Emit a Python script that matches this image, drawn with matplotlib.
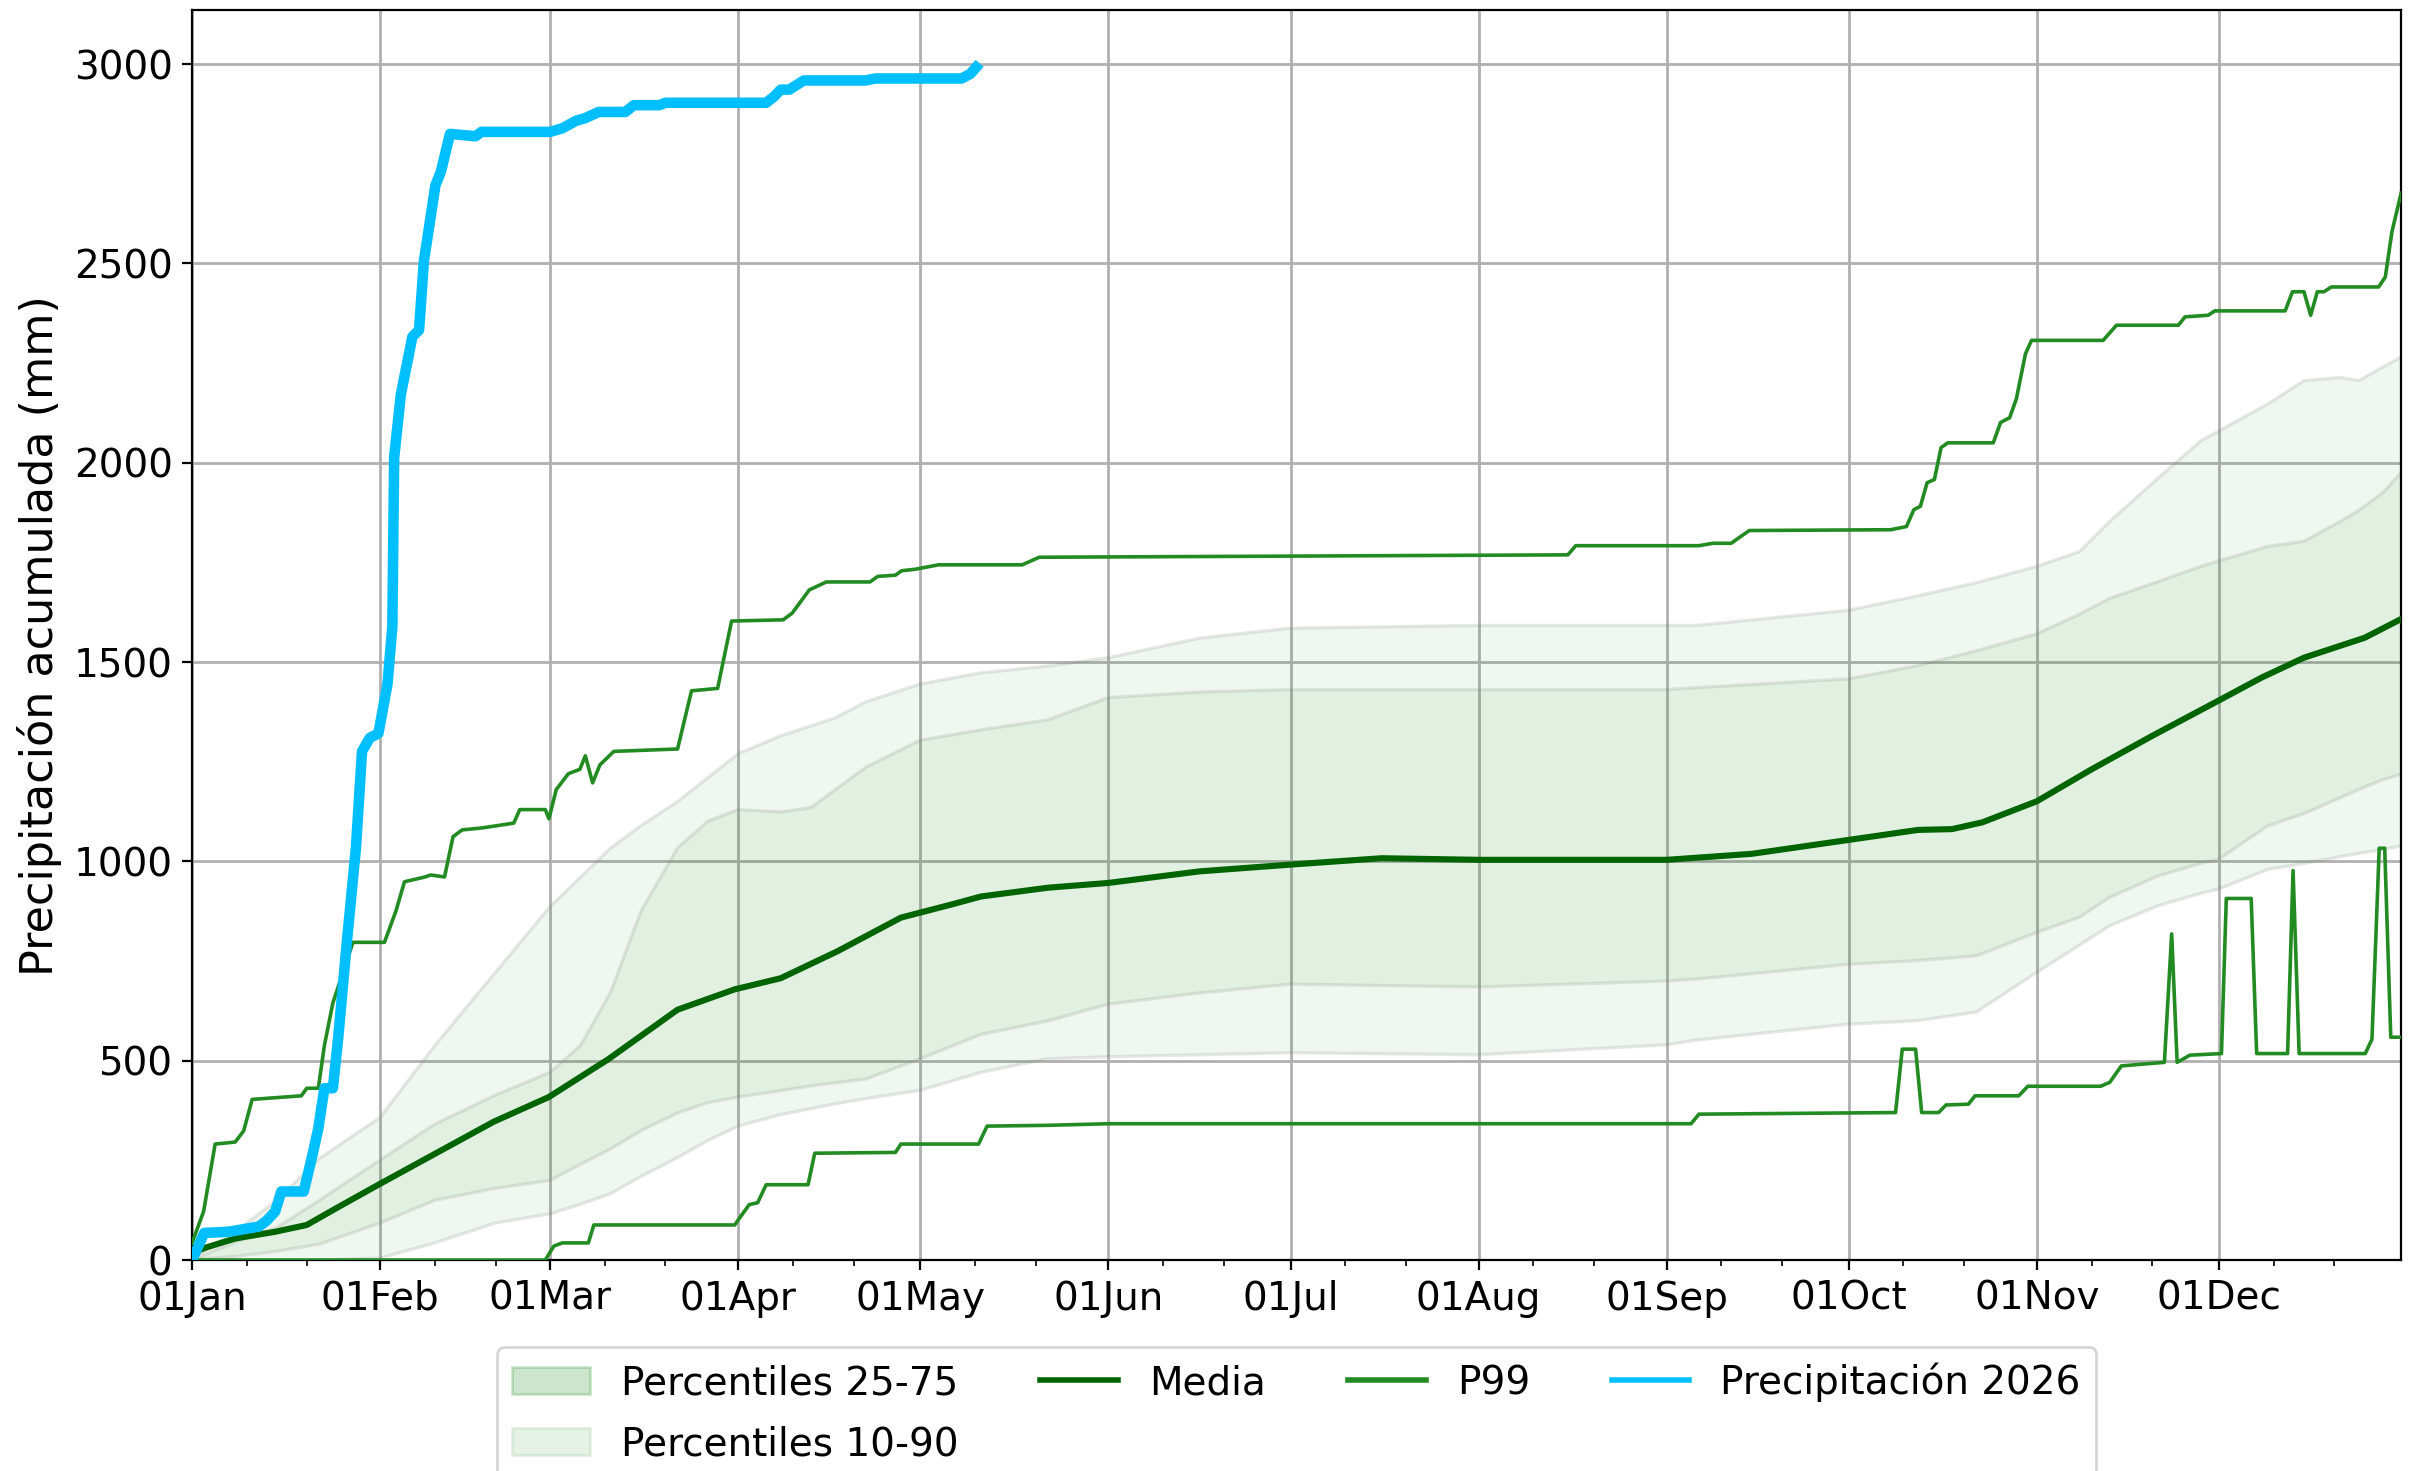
import datetime as dt
import matplotlib
matplotlib.use("Agg")
import matplotlib.pyplot as plt
import matplotlib.dates as mdates
from matplotlib.patches import Patch
from matplotlib.lines import Line2D

# days counted from 01 Jan, values in mm
p2026_days = [0, 2, 6, 11, 12.3, 13.7, 14.7, 18.4, 19.9, 20.8, 21.8, 23.2, 24.1, 25.5, 27, 28,
              29.3, 30.7, 32.2, 33, 33.3, 34.4, 36.3, 37.4, 38.2, 40.1, 41, 42.5, 46.7, 47.7,
              59, 61, 63.3, 64.7, 67, 71.4, 72.8, 77, 78, 94.6, 96, 97, 98.4, 100.8, 111,
              112.6, 126.8, 128.2, 129.2]
p2026_vals = [0, 68, 71, 84, 99, 122, 172, 172, 268, 330, 431, 431, 561, 797, 1034, 1276,
              1310, 1321, 1445, 1589, 2014, 2171, 2316, 2333, 2506, 2696, 2730, 2825, 2819, 2830,
              2830, 2839, 2858, 2864, 2880, 2880, 2897, 2897, 2903, 2903, 2920, 2936, 2936, 2959, 2959,
              2964, 2964, 2975, 2992]

p99_days = [0, 1.9, 3.8, 7.1, 8.5, 9.9, 18, 18.9, 20.8, 21.8, 23.2, 26.5, 31.7, 33.6, 35, 38.4,
            39.3, 41.6, 43, 44.5, 47.8, 53, 54, 58.2, 58.8, 60, 62, 63.9, 64.8, 66, 67.2, 69.5,
            80, 82.3, 86.6, 88.9, 97.4, 98.9, 101.7, 104.5, 111.7, 113, 115.9, 116.9, 119.2, 123,
            136.8, 139.6, 226.7, 228, 248.3, 250.6, 253.6, 256.6, 279.9, 282.5, 283.7, 284.8,
            285.9, 287.1, 288.2, 289.3, 296.8, 298, 299.5, 300.6, 302.1, 303.1, 314.9, 317.1,
            327.3, 328.4, 332.2, 333.3, 344.9, 346.1, 348, 349.1, 350.2, 351.3, 352.5, 360.3,
            361.4, 362.5, 364]
p99_vals = [43, 122, 291, 296, 324, 403, 412, 431, 431, 538, 645, 797, 797, 876, 949, 961,
            966, 961, 1062, 1079, 1084, 1096, 1130, 1130, 1107, 1180, 1220, 1231, 1265, 1197, 1242, 1276,
            1282, 1428, 1434, 1603, 1606, 1623, 1681, 1701, 1701, 1715, 1718, 1729, 1733, 1744,
            1744, 1763, 1769, 1792, 1792, 1798, 1798, 1830, 1832, 1840, 1882, 1891,
            1950, 1958, 2038, 2050, 2050, 2101, 2113, 2160, 2273, 2307, 2307, 2345,
            2345, 2366, 2370, 2381, 2381, 2429, 2429, 2370, 2429, 2429, 2441, 2441,
            2466, 2580, 2676]

p1_days = [0, 58.2, 59.6, 61, 65.3, 66.2, 89.4, 91.8, 93.2, 94.6, 101.5, 102.6, 115.9, 116.8,
           129.6, 131, 141, 151, 247, 248.3, 280.7, 281.8, 284, 285, 287.8, 289, 292.7, 293.8,
           301, 302.5, 314.5, 316, 317.9, 325, 326.2, 327.1, 329.2, 334.4, 335.2, 339.3, 340.2,
           345.3, 346.2, 347.2, 358.1, 359.2, 360.4, 361.3, 362.3, 364]
p1_vals = [0, 0, 35, 43, 43, 88, 88, 139, 144, 189, 189, 268, 270, 291,
           291, 336, 338, 342, 342, 366, 370, 529, 529, 370, 370, 389, 391, 412,
           412, 436, 436, 446, 487, 496, 818, 496, 514, 518, 907, 907, 518,
           518, 977, 518, 518, 554, 1033, 1033, 559, 559]

media_days = [0, 2.4, 7.1, 13.7, 18.9, 24.1, 30.7, 40.2, 49.7, 58.8, 68.6, 80, 89.4, 97, 106.4,
              116.8, 125.4, 130, 141, 151, 166, 181, 196, 212, 243, 257, 273, 284.4, 290, 295,
              304, 313, 323, 334, 341, 348, 358, 364]
media_vals = [18, 32, 54, 71, 88, 133, 189, 268, 347, 409, 504, 628, 679, 707, 775,
              859, 893, 912, 934, 946, 975, 992, 1008, 1004, 1004, 1019, 1054, 1079, 1081, 1098,
              1151, 1231, 1315, 1404, 1461, 1511, 1561, 1608]

# percentile bands, all on one set of days
band_days = [0, 7, 14, 21, 31, 40, 50, 59, 64, 69, 74, 80, 85, 90, 97, 102, 106, 111, 120, 130,
             141, 151, 166, 181, 212, 243, 248, 273, 284, 294, 304, 311, 316, 324, 331, 334,
             342, 348, 354, 357, 361, 364]
p90_vals = [3, 70, 150, 255, 358, 538, 722, 887, 960, 1034, 1090, 1150, 1210, 1270, 1315, 1340,
            1360, 1400, 1445, 1473, 1490, 1511, 1560, 1585, 1592, 1592, 1592, 1630, 1665, 1699, 1740, 1777,
            1853, 1962, 2055, 2080, 2147, 2206, 2214, 2206, 2240, 2265]
p75_vals = [0, 45, 82, 150, 251, 341, 414, 471, 538, 673, 876, 1034, 1101, 1130, 1124, 1135,
            1180, 1236, 1304, 1330, 1355, 1411, 1425, 1431, 1431, 1431, 1436, 1458, 1490, 1528, 1571, 1620,
            1660, 1702, 1740, 1754, 1790, 1803, 1853, 1880, 1925, 1975]
p25_vals = [0, 9, 22, 40, 93, 150, 180, 200, 240, 279, 325, 369, 395, 409, 425, 437,
            445, 454, 505, 566, 600, 642, 670, 692, 685, 700, 705, 742, 751, 763, 822, 860,
            910, 964, 995, 1006, 1089, 1120, 1160, 1180, 1205, 1219]
p10_vals = [0, 0, 0, 0, 5, 43, 93, 116, 140, 167, 210, 257, 300, 336, 365, 380,
            392, 405, 426, 471, 505, 510, 515, 520, 515, 540, 552, 592, 600, 622, 722, 790,
            839, 889, 920, 931, 980, 995, 1012, 1020, 1030, 1039]

start = dt.datetime(2026, 1, 1)


def to_dates(days):
    return [start + dt.timedelta(days=d) for d in days]


fig = plt.figure(figsize=(12.05, 7.355), dpi=200)
ax = fig.add_axes([0.0797, 0.1434, 0.9166, 0.8496])

bx = to_dates(band_days)
edge = (0.5, 0.55, 0.5, 0.2)
ax.fill_between(bx, p10_vals, p90_vals, facecolor="green", alpha=0.06, zorder=1)
ax.fill_between(bx, p25_vals, p75_vals, facecolor="green", alpha=0.06, zorder=1)
for v in (p10_vals, p90_vals, p25_vals, p75_vals):
    ax.plot(bx, v, color=edge, lw=1.2, zorder=1.5)

ax.plot(to_dates(media_days), media_vals, color="darkgreen", lw=2.2, zorder=3)
ax.plot(to_dates(p99_days), p99_vals, color="forestgreen", lw=1.3, zorder=3)
ax.plot(to_dates(p1_days), p1_vals, color="forestgreen", lw=1.3, zorder=3)
ax.plot(to_dates(p2026_days), p2026_vals, color="deepskyblue", lw=3.8, zorder=4)

ax.set_xlim(start, start + dt.timedelta(days=364))
ax.set_ylim(0, 3135)
ax.xaxis.set_major_locator(mdates.MonthLocator())
ax.xaxis.set_major_formatter(mdates.DateFormatter("%d%b"))
ax.xaxis.set_minor_locator(mdates.DayLocator(bymonthday=[10, 20]))
ax.set_yticks([0, 500, 1000, 1500, 2000, 2500, 3000])
ax.tick_params(labelsize=14)
ax.grid(True, color="#b0b0b0", lw=1.0)
ax.set_axisbelow(True)
ax.set_ylabel("Precipitación acumulada (mm)", fontsize=16)

handles = [
    Patch(facecolor="green", alpha=0.2, edgecolor="green", label="Percentiles 25-75"),
    Patch(facecolor="green", alpha=0.1, edgecolor="green", label="Percentiles 10-90"),
    Line2D([], [], color="darkgreen", lw=2, label="Media"),
    Line2D([], [], color="forestgreen", lw=2, label="P99"),
    Line2D([], [], color="deepskyblue", lw=2, label="Precipitación 2026"),
]
ax.legend(handles=handles, loc="upper center", bbox_to_anchor=(0.5, -0.054), ncol=4,
          fontsize=14, frameon=True, labelspacing=0.6, columnspacing=2.1)

fig.savefig("out.png", dpi=200)
